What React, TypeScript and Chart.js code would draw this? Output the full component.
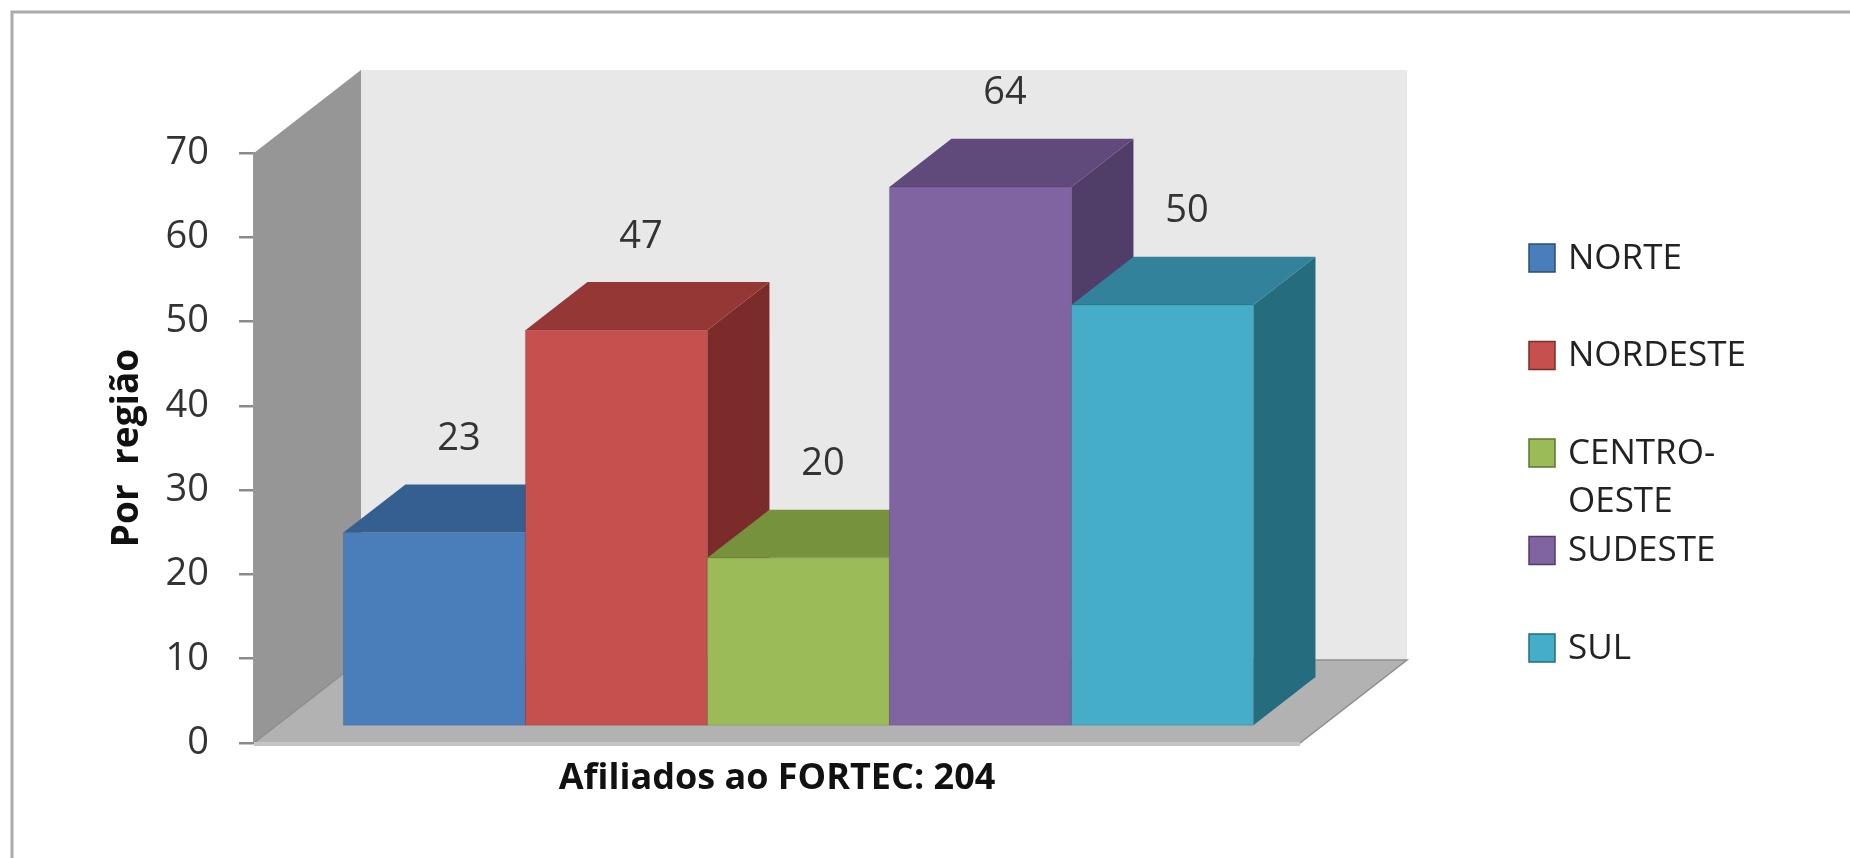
import React, { useEffect, useRef } from "react";
import { Chart, registerables } from "chart.js";

Chart.register(...registerables);

// ---- data ----
const categories = ["Afiliados ao FORTEC"];
const seriesNames = ["NORTE", "NORDESTE", "CENTRO-OESTE", "SUDESTE", "SUL"];
const seriesValues = [23, 47, 20, 64, 50];
const yTickStep = 10;
const yMin = 0;
const yMax = 70;
const xAxisTitle = "Afiliados ao FORTEC: 204";
const yAxisTitle = "Por  região";

// ---- styles ----
const FRONT = ["#4a7ebb", "#c5504d", "#9bbb59", "#8064a2", "#46adc8"];
const TOP = ["#365f91", "#953735", "#76923c", "#604a7b", "#31829a"];
const SIDE = ["#2c4d76", "#7b2c2a", "#5f7530", "#513e68", "#246c7e"];
const FONT = "'Open Sans', 'Noto Sans', sans-serif";

const DEPTH = { x: 107, y: -83 };
const BAR_NEAR = 0.2;
const BAR_FAR = 0.78;

function poly(ctx: CanvasRenderingContext2D, pts: number[][], fill: string, stroke?: string, lw = 1) {
  ctx.beginPath();
  ctx.moveTo(pts[0][0], pts[0][1]);
  for (let i = 1; i < pts.length; i++) ctx.lineTo(pts[i][0], pts[i][1]);
  ctx.closePath();
  ctx.fillStyle = fill;
  ctx.fill();
  if (stroke) {
    ctx.strokeStyle = stroke;
    ctx.lineWidth = lw;
    ctx.stroke();
  }
}

const frame3d = {
  id: "frame3d",
  beforeDraw(chart: any) {
    const { ctx, width, height } = chart;
    ctx.save();
    ctx.fillStyle = "#ffffff";
    ctx.fillRect(0, 0, width, height);
    ctx.strokeStyle = "#ababab";
    ctx.lineWidth = 3;
    ctx.beginPath();
    ctx.moveTo(12, height);
    ctx.lineTo(12, 12);
    ctx.lineTo(width, 12);
    ctx.stroke();
    ctx.restore();
  },
  beforeDatasetsDraw(chart: any) {
    const { ctx, chartArea: a } = chart;
    const dx = DEPTH.x;
    const dy = DEPTH.y;
    ctx.save();
    // back wall
    poly(ctx, [
      [a.left + dx, a.top + dy],
      [a.right + dx, a.top + dy],
      [a.right + dx, a.bottom + dy],
      [a.left + dx, a.bottom + dy],
    ], "#e8e8e8");
    // side wall
    poly(ctx, [
      [a.left, a.top],
      [a.left + dx, a.top + dy],
      [a.left + dx, a.bottom + dy],
      [a.left, a.bottom],
    ], "#969696");
    // floor
    poly(ctx, [
      [a.left, a.bottom],
      [a.right, a.bottom],
      [a.right + dx, a.bottom + dy],
      [a.left + dx, a.bottom + dy],
    ], "#b2b2b2", "#8e8e8e", 1.5);
    // floor front edge strip
    ctx.fillStyle = "#c4c4c4";
    ctx.fillRect(a.left, a.bottom - 1, a.right - a.left, 4);

    // bars
    const ddx = dx * (BAR_FAR - BAR_NEAR);
    const ddy = dy * (BAR_FAR - BAR_NEAR);
    chart.data.datasets.forEach((ds: any, i: number) => {
      const meta = chart.getDatasetMeta(i);
      meta.data.forEach((el: any) => {
        const p = el.getProps(["x", "y", "base", "width"], true);
        const l = p.x - p.width / 2 + dx * BAR_NEAR;
        const r = p.x + p.width / 2 + dx * BAR_NEAR;
        const t = p.y + dy * BAR_NEAR;
        const b = p.base + dy * BAR_NEAR;
        poly(ctx, [[r, t], [r + ddx, t + ddy], [r + ddx, b + ddy], [r, b]], SIDE[i]);
        poly(ctx, [[l, t], [r, t], [r + ddx, t + ddy], [l + ddx, t + ddy]], TOP[i]);
        poly(ctx, [[l, t], [r, t], [r, b], [l, b]], FRONT[i], "rgba(0,0,0,0.12)", 1);
      });
    });
    ctx.restore();
    return false;
  },
  afterDraw(chart: any) {
    const { ctx } = chart;
    ctx.save();
    // value labels
    ctx.font = `38px ${FONT}`;
    ctx.fillStyle = "#333333";
    ctx.textAlign = "center";
    ctx.textBaseline = "middle";
    chart.data.datasets.forEach((ds: any, i: number) => {
      const meta = chart.getDatasetMeta(i);
      meta.data.forEach((el: any, j: number) => {
        const p = el.getProps(["x", "y"], true);
        ctx.fillText(String(ds.data[j]), p.x + 46, p.y - 110);
      });
    });
    // legend
    const lx = 1529;
    const ly0 = 258;
    const step = 97.5;
    ctx.font = `35px ${FONT}`;
    ctx.textAlign = "left";
    ctx.fillStyle = "#222222";
    chart.data.datasets.forEach((ds: any, i: number) => {
      const yc = ly0 + i * step;
      ctx.fillStyle = FRONT[i];
      ctx.fillRect(lx, yc - 14, 26, 28);
      ctx.strokeStyle = SIDE[i];
      ctx.lineWidth = 1.5;
      ctx.strokeRect(lx, yc - 14, 26, 28);
      ctx.fillStyle = "#222222";
      const name: string = ds.label;
      const parts = name.includes("-") ? [name.slice(0, name.indexOf("-") + 1), name.slice(name.indexOf("-") + 1)] : [name];
      parts.forEach((s, k) => ctx.fillText(s, lx + 39, yc + k * 48 + 1));
    });
    ctx.restore();
  },
};

export default function App() {
  const ref = useRef<HTMLCanvasElement | null>(null);
  useEffect(() => {
    if (!ref.current) return;
    const chart = new Chart(ref.current, {
      type: "bar",
      data: {
        labels: categories,
        datasets: seriesNames.map((n, i) => ({
          label: n,
          data: [seriesValues[i]],
          backgroundColor: FRONT[i],
        })),
      },
      options: {
        animation: false,
        responsive: false,
        maintainAspectRatio: false,
        devicePixelRatio: 1,
        layout: { padding: { left: 0, right: 550, top: 153, bottom: 0 } },
        datasets: { bar: { categoryPercentage: 0.87, barPercentage: 1 } },
        plugins: { legend: { display: false }, tooltip: { enabled: false } },
        scales: {
          x: {
            grid: { display: false },
            border: { display: false },
            ticks: { display: false },
            title: {
              display: true,
              text: xAxisTitle,
              color: "#111111",
              font: { family: FONT, size: 36, weight: "bold" },
              padding: { top: 0, bottom: 58 },
            },
            afterFit: (s: any) => {
              s.height = 115;
            },
          },
          y: {
            min: yMin,
            max: yMax,
            ticks: {
              stepSize: yTickStep,
              padding: 30,
              color: "#333333",
              font: { family: FONT, size: 38 },
            },
            grid: {
              drawOnChartArea: false,
              drawTicks: true,
              tickLength: 15,
              color: "#8a8a8a",
              lineWidth: 2.5,
            },
            border: { display: true, color: "#9a9a9a", width: 2 },
            title: {
              display: true,
              text: yAxisTitle,
              color: "#111111",
              font: { family: FONT, size: 37, weight: "bold" },
              padding: { top: 105, bottom: 0 },
            },
            afterFit: (s: any) => {
              s.width = 254;
            },
          },
        },
      } as any,
      plugins: [frame3d],
    });
    return () => chart.destroy();
  }, []);
  return (
    <div style={{ position: "fixed", left: 0, top: 0, width: 1850, height: 858, background: "#fff" }}>
      <canvas ref={ref} width={1850} height={858} style={{ width: 1850, height: 858, display: "block" }} />
    </div>
  );
}
